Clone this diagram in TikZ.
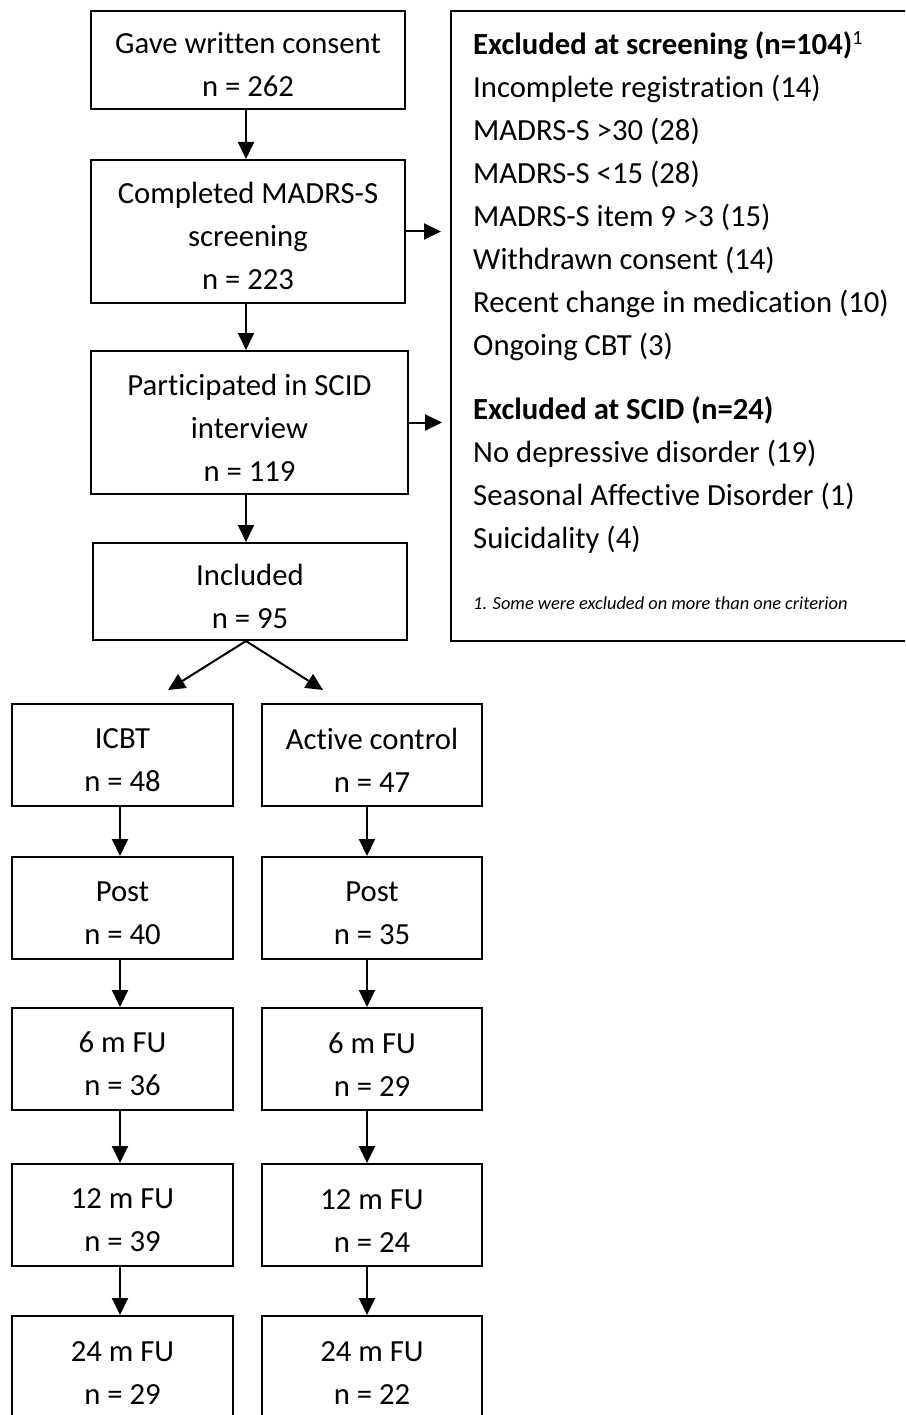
\documentclass[tikz,border=0pt]{standalone}
\usepackage{fontspec}
\setmainfont{Carlito}[Ligatures={NoCommon}]
\usetikzlibrary{arrows.meta}
\usetikzlibrary{positioning}

\newcommand{\boxtop}{\rule{0pt}{31pt}}

\begin{document}
\begin{tikzpicture}[x=1pt,y=-1pt,
    box/.style={draw=black, line width=2pt, inner sep=0pt, align=center,
        font=\fontsize{30.7}{43}\selectfont},
    arr/.style={line width=2pt, -{Triangle[length=17pt,width=16pt]}}]
                \clip (0,0) rectangle (905,1415);
                \fill[white] (0,0) rectangle (905,1415);
                % screening column
                \node[box, minimum width=314, minimum height=98] (consent) at (248,60) {\boxtop Gave written consent\\n = 262};
                \node[box, minimum width=314, minimum height=143] (madrs) at (248,231.5) {\boxtop Completed MADRS-S\\screening\\n = 223};
                \node[box, minimum width=317, minimum height=143] (scid) at (249.5,422.5) {\boxtop Participated in SCID\\interview\\n = 119};
                \node[box, minimum width=314, minimum height=97] (incl) at (250,591.5) {\boxtop Included\\n = 95};
                % exclusions
                \node[draw=black, line width=2pt, minimum width=480, minimum height=630, anchor=north west] (excl) at (450,10) {};
                \node[anchor=north west, inner sep=0pt, align=left, font=\fontsize{30.7}{43}\selectfont] (exlist) at (473,31) {\textbf{Excluded at screening (n=104)}\raisebox{10pt}{\fontsize{20}{20}\selectfont 1}\\
                    Incomplete registration (14)\\
                    MADRS-S >30 (28)\\
                    MADRS-S <15 (28)\\
                    MADRS-S item 9 >3 (15)\\
                    Withdrawn consent (14)\\
                    Recent change in medication (10)\\
                    Ongoing CBT (3)\\[21pt]
                    \textbf{Excluded at SCID (n=24)}\\
                    No depressive disorder (19)\\
                    Seasonal Affective Disorder (1)\\
                    Suicidality (4)};
                \node[anchor=west, inner sep=0pt, font=\fontsize{18.4}{20}\selectfont\itshape] (exnote) at (473,603) {1. Some were excluded on more than one criterion};
                % two arms
                \node[box, minimum width=221, minimum height=102] (icbt) at (122.5,755) {\boxtop ICBT\\n = 48};
                \node[box, minimum width=220, minimum height=102] (ctrl) at (372,755) {\boxtop Active control\\n = 47};
                \node[box, minimum width=221, minimum height=102] (postA) at (122.5,908) {\boxtop Post\\n = 40};
                \node[box, minimum width=220, minimum height=102] (postB) at (372,908) {\boxtop Post\\n = 35};
                \node[box, minimum width=221, minimum height=102] (fusixA) at (122.5,1059) {\boxtop 6 m FU\\n = 36};
                \node[box, minimum width=220, minimum height=102] (fusixB) at (372,1059) {\boxtop 6 m FU\\n = 29};
                \node[box, minimum width=221, minimum height=102] (futwA) at (122.5,1215) {\boxtop 12 m FU\\n = 39};
                \node[box, minimum width=220, minimum height=102] (futwB) at (372,1215) {\boxtop 12 m FU\\n = 24};
                \node[box, minimum width=221, minimum height=102] (fufoA) at (122.5,1367) {\boxtop 24 m FU\\n = 29};
                \node[box, minimum width=220, minimum height=102] (fufoB) at (372,1367) {\boxtop 24 m FU\\n = 22};
                \coordinate (splitL) at (168,690);
                \coordinate (splitR) at (323,690);
                % arrows
                \draw[arr] (consent.south -| 246,0) -- (madrs.north -| 246,0);
                \draw[arr] (madrs.south -| 246,0) -- (scid.north -| 246,0);
                \draw[arr] (scid.south -| 246,0) -- (incl.north -| 246,0);
                \draw[arr, shorten >=9pt] (madrs.east) -- (madrs.east -| excl.west);
                \draw[arr, shorten >=8pt] (scid.east) -- (scid.east -| excl.west);
                \draw[arr] (incl.south -| 246,0) -- (splitL);
                \draw[arr] (incl.south -| 246,0) -- (splitR);
                \draw[arr] (icbt.south -| 120,0) -- (postA.north -| 120,0);
                \draw[arr] (ctrl.south -| 367,0) -- (postB.north -| 367,0);
                \draw[arr] (postA.south -| 120,0) -- (fusixA.north -| 120,0);
                \draw[arr] (postB.south -| 367,0) -- (fusixB.north -| 367,0);
                \draw[arr] (fusixA.south -| 120,0) -- (futwA.north -| 120,0);
                \draw[arr] (fusixB.south -| 367,0) -- (futwB.north -| 367,0);
                \draw[arr] (futwA.south -| 120,0) -- (fufoA.north -| 120,0);
                \draw[arr] (futwB.south -| 367,0) -- (fufoB.north -| 367,0);
            \end{tikzpicture}
\end{document}
